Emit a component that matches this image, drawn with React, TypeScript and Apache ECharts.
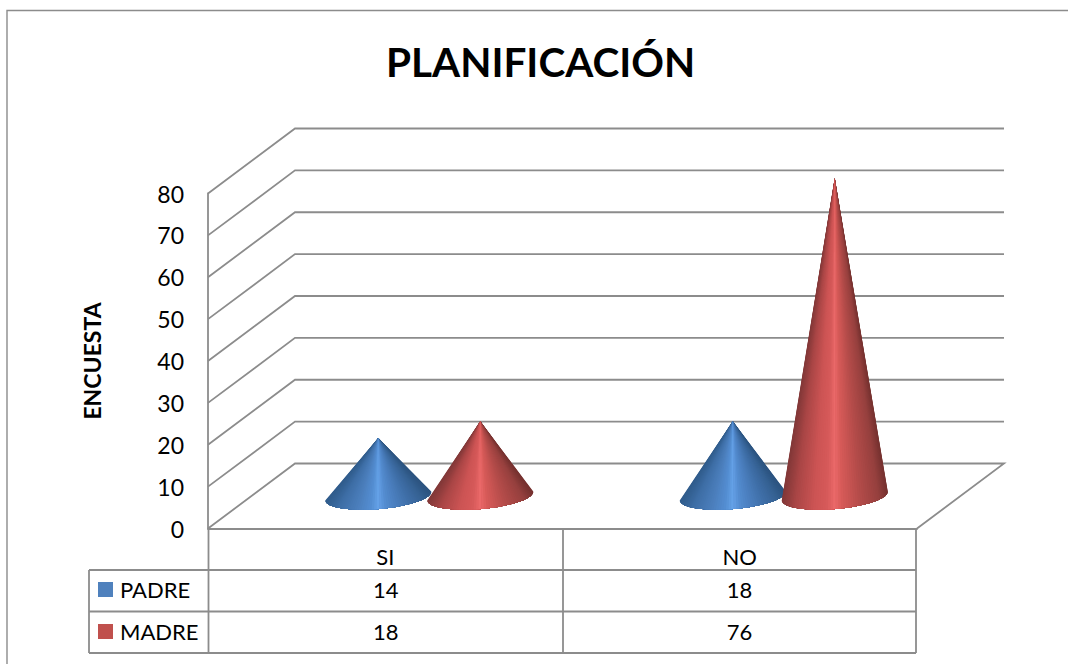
import React, { useEffect, useRef } from "react";
import * as echarts from "echarts";

const TITLE = "PLANIFICACIÓN";
const AXIS_NAME = "ENCUESTA";
const categories = ["SI", "NO"];
const padre = [14, 18];
const madre = [18, 76];
const ticks = [0, 10, 20, 30, 40, 50, 60, 70, 80];

const FONT = "Lato";
const LINE = "#8c8c8c";
const W = 1068;
const H = 664;
const GL = 208, GR = 917, GT = 193.5, GB = 528.5;
const DX = 87, DY = -65; // full depth of the 3D box
const ROWS = [570, 611.5, 653];
const COLS = [89, 208.5, 563, 916];

type Stop = [number, number[]];
const hex = (c: number[]) => `rgb(${c.map((v) => Math.round(v)).join(",")})`;
const ramp = (stops: Stop[], u: number) => {
  for (let i = 1; i < stops.length; i++) {
    if (u <= stops[i][0]) {
      const [a, ca] = stops[i - 1];
      const [b, cb] = stops[i];
      const k = (u - a) / (b - a);
      return hex(ca.map((v, j) => v + (cb[j] - v) * k));
    }
  }
  return hex(stops[stops.length - 1][1]);
};
const BLUE: Stop[] = [
  [0, [48, 92, 140]], [0.12, [62, 110, 166]], [0.3, [76, 128, 190]], [0.42, [84, 142, 210]], [0.5, [104, 165, 236]],
  [0.58, [84, 140, 208]], [0.75, [68, 118, 178]], [0.92, [54, 98, 148]], [1, [44, 84, 128]],
];
const RED: Stop[] = [
  [0, [130, 56, 56]], [0.12, [170, 70, 70]], [0.3, [205, 84, 84]], [0.42, [215, 90, 90]], [0.5, [238, 108, 108]],
  [0.58, [215, 90, 88]], [0.75, [180, 76, 74]], [0.92, [150, 64, 62]], [1, [118, 50, 48]],
];

const coneSeries = (name: string, color: string, values: number[], stops: Stop[], shift: number) => ({
  name,
  type: "custom",
  coordinateSystem: "cartesian2d",
  clip: false,
  silent: true,
  itemStyle: { color },
  encode: { x: 0, y: 1 },
  data: values.map((v, i) => [i, v]),
  renderItem: (_: any, api: any) => {
    const base = api.coord([api.value(0), 0]);
    const top = api.coord([api.value(0), api.value(1)]);
    const cx = base[0] + DX / 2 + shift;
    const cy = base[1] + DY / 2;
    const apex = [cx, top[1] + DY / 2 + 0.5];
    const ax = 53, ay = -4.5, bx = 1, by = 13;
    const N = 64;
    const mid = N / 2;
    const pts: number[][] = [];
    for (let i = 0; i <= N; i++) {
      const t = Math.PI * (1 - i / N);
      pts.push([cx + ax * Math.cos(t) + bx * Math.sin(t), cy + ay * Math.cos(t) + by * Math.sin(t)]);
    }
    const colour = (i: number) => {
      const u = (pts[i][0] - (cx - ax)) / (2 * ax);
      return ramp(stops, Math.max(0, Math.min(1, u)));
    };
    const children: any[] = [];
    // painter's order from each rim towards the centre, so there are no seams
    for (let i = 0; i < mid; i++) {
      children.push({
        type: "polygon",
        shape: { points: [apex, ...pts.slice(i, mid + 1)] },
        style: { fill: colour(i) },
      });
      children.push({
        type: "polygon",
        shape: { points: [apex, ...pts.slice(mid, N - i + 1)] },
        style: { fill: colour(N - i) },
      });
    }
    return { type: "group", children };
  },
});

const wallSeries = {
  name: "wall",
  type: "custom",
  coordinateSystem: "cartesian2d",
  clip: false,
  silent: true,
  encode: { x: 0, y: 1 },
  data: ticks.map((t) => [0, t]),
  renderItem: (_: any, api: any) => {
    const y = api.coord([0, api.value(1)])[1];
    const pts = [[GL, y], [GL + DX, y + DY], [GR + DX, y + DY]];
    if (api.value(1) === 0) pts.push([GR, y]);
    return {
      type: "polyline",
      shape: { points: pts },
      style: { fill: "none", stroke: LINE, lineWidth: 1.8 },
    };
  },
};

const seg = (x1: number, y1: number, x2: number, y2: number) => ({
  type: "line",
  silent: true,
  shape: { x1, y1, x2, y2 },
  style: { stroke: LINE, lineWidth: 1.8 },
});
const cell = (x: number, y: number, text: string | number) => ({
  type: "text",
  silent: true,
  x,
  y,
  style: { text: String(text), font: `22px ${FONT}`, fill: "#000", align: "center", verticalAlign: "middle" },
});

export default function App() {
  const ref = useRef<HTMLDivElement>(null);
  useEffect(() => {
    const chart = echarts.init(ref.current!, null, { renderer: "svg" });
    const c1 = (COLS[1] + COLS[2]) / 2;
    const c2 = (COLS[2] + COLS[3]) / 2;
    chart.setOption({
      animation: false,
      backgroundColor: "#fff",
      title: {
        text: TITLE,
        left: 381,
        top: 36,
        textStyle: { fontFamily: FONT, fontWeight: "bold", fontSize: 40.5, color: "#000" },
      },
      legend: {
        data: [
          { name: "PADRE", icon: "rect" },
          { name: "MADRE", icon: "rect" },
        ],
        orient: "vertical",
        left: 98,
        top: 578.5,
        padding: 0,
        itemWidth: 15,
        itemHeight: 15,
        itemGap: 20,
        selectedMode: false,
        textStyle: { fontFamily: FONT, fontSize: 22, color: "#000", padding: [0, 0, 6, 2] },
      },
      grid: { left: GL, right: W - GR, top: GT, bottom: H - GB },
      xAxis: {
        type: "category",
        data: categories,
        axisTick: { show: false },
        axisLine: { show: true, lineStyle: { color: LINE, width: 1.8 } },
        axisLabel: { fontFamily: FONT, fontSize: 22, color: "#000", margin: 17 },
      },
      yAxis: {
        type: "value",
        min: 0,
        max: 80,
        interval: 10,
        name: AXIS_NAME,
        nameLocation: "middle",
        nameRotate: 90,
        nameGap: 105,
        nameTextStyle: { fontFamily: FONT, fontWeight: "bold", fontSize: 23, color: "#000" },
        splitLine: { show: false },
        axisTick: { show: false },
        axisLine: { show: true, lineStyle: { color: LINE, width: 1.8 } },
        axisLabel: { fontFamily: FONT, fontSize: 23, color: "#000", margin: 24 },
      },
      graphic: [
        {
          type: "polyline",
          silent: true,
          shape: { points: [[7, H], [7, 10.5], [W, 10.5]] },
          style: { fill: "none", stroke: LINE, lineWidth: 1.4 },
        },
        seg(COLS[1], GB, COLS[1], ROWS[2]),
        seg(COLS[2], GB, COLS[2], ROWS[2]),
        seg(COLS[3], GB, COLS[3], ROWS[2]),
        seg(COLS[0], ROWS[0], COLS[0], ROWS[2]),
        seg(COLS[0], ROWS[0], COLS[3], ROWS[0]),
        seg(COLS[0], ROWS[1], COLS[3], ROWS[1]),
        seg(COLS[0], ROWS[2], COLS[3], ROWS[2]),
        cell(c1, 589.5, padre[0]),
        cell(c2, 589.5, padre[1]),
        cell(c1, 631.5, madre[0]),
        cell(c2, 631.5, madre[1]),
      ],
      series: [
        wallSeries,
        coneSeries("PADRE", "#4f81bd", padre, BLUE, -50.5),
        coneSeries("MADRE", "#c0504d", madre, RED, 51.5),
      ],
    });
    return () => chart.dispose();
  }, []);
  return (
    <div
      ref={ref}
      style={{ position: "fixed", left: 0, top: 0, width: W, height: H, background: "#fff" }}
    />
  );
}
